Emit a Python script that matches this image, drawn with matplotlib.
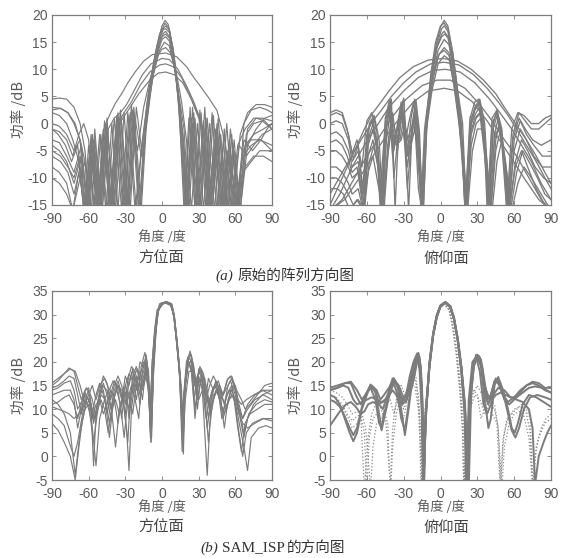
import matplotlib
matplotlib.use("Agg")
import matplotlib.pyplot as plt

# angle (deg) / power (dB) key points
# (a) original pattern, azimuth plane
az_orig = [
    [(-90,-3),(-84,-3.5),(-78,-6),(-72,-9),(-66,-4),(-61,-16),(-56,-3),(-51,-16),(-46,-1),(-41,-16),(-35,1),(-29,-16),(-24,2.5),(-18,-16),(-14,-2),(-9,8),(-4,14.5),(0,18),(2.5,19),(5,18.3),(9,14),(13,6),(17,-3),(20,-16),(24,1),(29,-16),(34,0.5),(39,-16),(44,-1),(50,-16),(55,-3),(61,-16),(67,-3),(74,-5),(81,-3),(86,-1),(90,0)],
    [(-90,-5),(-83,-6),(-77,-8),(-72,-10),(-67,-6),(-63,-16),(-58,-4),(-53,-16),(-48,-1.5),(-43,-16),(-37,0),(-32,-16),(-27,1.5),(-21,-16),(-16,-3),(-11,6),(-5,13.5),(0,17.2),(3,18),(6,17.2),(10,12.5),(14,4),(18,-4),(21,-16),(26,2),(31,-16),(36,1),(41,-16),(47,-1.5),(53,-16),(58,-4),(63,-16),(69,-2),(75,0),(82,0.5),(90,-1)],
    [(-90,4.5),(-84,4.7),(-78,4.5),(-72,3),(-67,0),(-63,-5),(-59,-16),(-55,-1),(-50,-16),(-45,1),(-40,-16),(-34,2.5),(-28,-16),(-23,3),(-17,-16),(-13,-1),(-8,8),(-3,14),(1,16.6),(3,17),(6,16),(10,11),(14,3),(18,-16),(22,1),(27,-16),(32,2),(37,-16),(42,1.5),(48,-16),(53,0),(58,-16),(64,-2),(70,2),(77,3.5),(84,3.5),(90,3)],
    [(-90,3),(-83,2.8),(-77,2),(-71,0),(-66,-4),(-61,-16),(-57,-2),(-52,-16),(-47,0.5),(-42,-16),(-36,2),(-30,-16),(-25,3.5),(-19,-16),(-15,-4),(-10,5),(-5,12),(0,15.5),(3,16),(6,15.2),(10,11),(14,4),(17,-2),(21,-16),(25,3),(30,-16),(35,3),(40,-16),(45,0),(51,-16),(56,-1),(62,-16),(67,0),(73,2.5),(80,3),(86,2.5),(90,2)],
    [(-90,2),(-84,1.5),(-78,0),(-73,-3),(-68,-7),(-64,-16),(-60,-4),(-55,-16),(-50,-2),(-45,-16),(-39,1),(-33,-16),(-28,2),(-22,-16),(-17,-5),(-12,3),(-7,9),(-2,13.5),(2,15),(6,14.3),(10,10.5),(14,5),(18,-1),(22,-16),(27,1),(32,-16),(37,1),(43,-16),(48,-2),(54,-16),(59,-5),(64,-16),(70,-4),(77,-1),(84,1),(90,1.5)],
    [(-90,0),(-84,-0.5),(-78,-2),(-72,-5),(-67,-3),(-63,-16),(-58,-2),(-53,-16),(-48,-1),(-43,-16),(-37,1.5),(-31,-16),(-26,2),(-20,-5),(-15,3),(-10,8),(-5,12),(0,13.7),(3,14),(7,13),(12,9),(16,4),(20,-3),(24,-16),(29,0),(34,-16),(39,0),(45,-16),(51,-2),(57,-16),(63,-4),(69,-6),(75,-4),(82,-2),(90,-1)],
    [(-90,-1),(-85,-2),(-79,-4),(-74,-7),(-69,-4),(-64,-16),(-58,-3),(-52,-16),(-46,0),(-42,2),(-38,3.8),(-33,5.5),(-28,7.5),(-22,9.5),(-15,11.5),(-8,12.7),(3,13),(12,12.3),(20,10.5),(26,8.5),(31,7),(38,4.8),(45,2.4),(50,-2),(54,-16),(59,-3),(64,-16),(70,-1),(77,1),(84,0.5),(90,-1)],
    [(-90,-4),(-84,-5),(-78,-7),(-72,-11),(-66,-6),(-61,-16),(-55,-3),(-49,-16),(-44,-1),(-39,1),(-34,2),(-29,3.5),(-23,6),(-16,9),(-9,11),(0,12),(6,11.8),(13,10),(20,7),(26,4),(31,1),(36,-4),(40,-16),(45,-2),(50,-16),(55,-4),(61,-16),(66,-6),(73,-4),(80,-3),(90,-4)],
    [(-90,-6),(-83,-7),(-77,-9),(-72,-13),(-67,-8),(-62,-16),(-57,-5),(-51,-16),(-46,-3),(-41,-16),(-36,0),(-31,2),(-25,4),(-18,7),(-10,9.5),(-2,10.8),(3,11),(9,10.5),(16,8.5),(23,5),(29,2),(34,-1),(38,-16),(43,-3),(48,-16),(53,-5),(60,-16),(66,-5),(73,-3),(81,-3),(90,-5)],
    [(-90,-8),(-84,-9),(-78,-11),(-73,-16),(-68,-9),(-63,-16),(-58,-6),(-53,-16),(-47,-3),(-42,-16),(-37,-1),(-32,1),(-26,3),(-19,5.5),(-10,8),(-3,9.3),(3,9.5),(10,9),(17,7.5),(24,4.5),(30,1),(35,-3),(39,-16),(44,-4),(49,-16),(55,-6),(62,-16),(68,-8),(75,-6),(83,-6),(90,-7)],
    [(-90,-1),(-84,-1.5),(-78,-3),(-73,-6),(-68,-2),(-64,0),(-60,-3),(-56,-16),(-51,-2),(-46,-16),(-41,0),(-36,-16),(-31,2),(-26,-16),(-21,3),(-16,-6),(-12,2),(-7,11),(-2,16.5),(2.5,18.5),(6,17.5),(10,12),(13,5),(16,-5),(19,-16),(23,3),(27,-16),(31,2.5),(36,-16),(41,2),(46,-16),(51,-1),(56,-16),(62,-4),(68,-1),(75,1),(82,1),(90,0.5)],
    [(-90,-10),(-84,-11),(-78,-13),(-73,-16),(-68,-11),(-63,-7),(-58,-16),(-54,-5),(-49,-16),(-44,-3),(-38,-16),(-33,0),(-27,-16),(-22,1),(-17,-6),(-12,4),(-6,12),(-1,15.8),(3,16.5),(7,15.5),(11,10),(15,2),(19,-16),(24,-1),(28,-16),(33,-2),(38,-16),(43,-3),(49,-16),(54,-5),(60,-16),(66,-9),(73,-7),(80,-5),(90,-5)],
    [(-90,2.5),(-83,2.8),(-77,2),(-72,0),(-67,-3),(-63,-7),(-60,-16),(-56,-4),(-50,-16),(-45,-0.5),(-39,-16),(-34,1.5),(-28,-16),(-23,1),(-18,-16),(-13,0),(-8,9),(-3,15),(1,17.3),(3,17.5),(6,16.8),(10,12),(13,5),(17,-5),(20,-16),(25,0),(31,-16),(36,0),(41,-16),(46,1),(52,-16),(57,-2),(62,-16),(68,-4),(75,-2),(83,-1),(90,0)],
]

# (a) original pattern, elevation plane
el_orig = [
    [(-90,1.5),(-85,2),(-80,1.5),(-75,-2),(-71,-6.5),(-67,-4),(-62,-16),(-58,0),(-54,1.5),(-50,-3),(-47,-16),(-44,0),(-40,4.5),(-37,-16),(-34,0),(-30,4.7),(-26,-16),(-23,0),(-20,4.4),(-17,-2),(-15,-16),(-12,-2),(-8,8),(-4,14),(0,17.8),(3,19),(6,18),(10,13),(14,6),(18,0),(21,-16),(24,0),(28,3),(32,4.5),(36,0),(40,-16),(43,0),(46,2.5),(50,-2),(55,-16),(59,-2),(64,2),(69,0.5),(74,-1),(80,-1),(85,0),(90,1)],
    [(-90,0),(-85,0.5),(-80,0),(-75,-3),(-72,-7),(-67,-5),(-63,-12),(-59,-1),(-55,1),(-51,-5),(-48,-14),(-44,-1),(-41,3.5),(-38,-10),(-34,-1),(-31,3.5),(-27,-12),(-23,-1),(-20,3),(-17,-5),(-14,-16),(-11,0),(-7,9),(-3,14.5),(1,17.5),(3,18),(6,17),(10,12),(14,5),(17,-2),(20,-16),(24,-1),(28,2.5),(31,3.5),(35,-1),(39,-16),(43,-1),(46,1.5),(50,-4),(54,-16),(59,-3),(64,1),(69,-1),(75,-3),(82,-4),(90,-3)],
    [(-90,-2),(-85,-1.5),(-80,-2.5),(-75,-5),(-72,-8),(-67,-7),(-63,-16),(-59,-3),(-55,0),(-52,-4),(-49,-16),(-45,-2),(-42,3),(-38,-4),(-35,-1),(-32,3),(-28,-6),(-24,-2),(-21,2),(-18,-8),(-15,-16),(-12,0),(-7,9),(-3,14),(1,16.5),(3,17),(6,16),(10,11),(14,4),(17,-3),(20,-16),(25,0),(29,2),(32,3),(36,-3),(40,-16),(44,-2),(47,1),(51,-5),(55,-16),(60,-5),(65,-1),(70,-3),(76,-6),(83,-8),(90,-8)],
    [(-90,-5),(-85,-5),(-80,-6),(-75,-8),(-72,-10),(-67,-9),(-63,-13),(-59,-4),(-55,-1),(-51,-6),(-48,-16),(-44,-3),(-41,2),(-37,-3),(-34,-2),(-31,2),(-27,-8),(-24,-3),(-21,1),(-18,-12),(-15,-16),(-12,0),(-7,8),(-2,13.5),(3,15.5),(7,14.5),(11,9),(15,2),(18,-5),(21,-16),(25,-2),(29,1),(33,2),(37,-5),(41,-16),(45,-3),(48,0),(52,-6),(56,-16),(61,-7),(66,-3),(71,-5),(77,-8),(84,-10),(90,-11)],
    [(-90,-8),(-85,-8),(-80,-9),(-75,-11),(-72,-13),(-67,-12),(-63,-16),(-59,-6),(-55,-3),(-51,-8),(-47,-16),(-43,-4),(-40,1),(-36,-2),(-33,-3),(-30,1),(-26,-6),(-22,0),(-18,-4),(-15,-16),(-12,-1),(-7,7),(-2,12.5),(3,14),(7,13),(11,8),(15,1),(18,-6),(21,-16),(25,-4),(29,0),(33,1),(37,-6),(41,-16),(45,-5),(49,-1),(53,-7),(57,-16),(62,-9),(67,-5),(72,-7),(79,-10),(85,-13),(90,-14)],
    [(-90,-12),(-84,-12),(-79,-13),(-74,-16),(-68,-14),(-63,-16),(-59,-9),(-55,-6),(-51,-11),(-47,-16),(-43,-6),(-40,-1),(-36,-4),(-32,-3),(-29,0),(-25,-5),(-21,-1),(-18,-6),(-15,-16),(-12,-2),(-7,6),(-2,11),(3,12.5),(7,11.8),(11,7),(15,0),(19,-8),(22,-16),(26,-5),(30,-1),(34,-1),(38,-8),(42,-16),(46,-7),(50,-3),(54,-9),(58,-16),(63,-11),(68,-8),(74,-10),(82,-13),(90,-16)],
    [(-90,-3.5),(-85,-3),(-80,-4),(-76,-6),(-72,-9),(-68,-8),(-64,-14),(-60,-2),(-56,0.5),(-52,-3),(-49,-12),(-45,0),(-42,4),(-39,-6),(-35,0),(-32,4),(-29,-4),(-26,0),(-22,4),(-18,-3),(-16,-16),(-13,-1),(-8,8),(-3,14),(1,16),(3.5,16.5),(7,15.5),(11,10),(15,3),(18,-4),(22,-16),(25,1),(29,3),(32,4),(36,-2),(39,-16),(42,0),(46,2),(50,-3),(56,-16),(60,-3),(65,0.5),(70,-2),(76,-4),(83,-6),(90,-6)],
    [(-90,-10),(-85,-10),(-80,-11),(-75,-13),(-71,-15),(-67,-14),(-62,-16),(-58,-7),(-54,-4),(-50,-9),(-46,-16),(-42,-3),(-39,2),(-35,-5),(-31,2.5),(-27,-3),(-24,-1),(-20,2),(-17,-8),(-14,-16),(-11,1),(-6,9),(-1,12.8),(3,13.5),(7,12.5),(11,7),(15,1),(18,-8),(21,-16),(24,-2),(28,1),(32,2),(36,-6),(40,-16),(44,-3),(48,0),(52,-7),(56,-16),(61,-8),(66,-5),(71,-8),(78,-12),(85,-15),(90,-16)],
    [(-90,2),(-85,2.5),(-80,2),(-76,-1),(-72,-5.5),(-68,-3),(-64,-8),(-60,0.5),(-56,2),(-52,-1),(-48,-16),(-45,1),(-41,4.5),(-38,-5),(-34,1),(-30,4.5),(-27,-6),(-24,1),(-21,4.5),(-18,0),(-15,-16),(-12,-1),(-8,9),(-4,15),(0,18),(3,18.5),(6,17.5),(10,13),(14,6),(17,0),(20,-16),(24,1),(28,4),(31,4.5),(35,1),(38,-16),(42,1),(46,2.5),(50,-1),(54,-16),(58,-1),(63,2),(68,1.5),(74,0),(80,0),(85,1),(90,1.5)],
    [(-90,-15),(-80,-10),(-70,-5),(-62,-1),(-55,2),(-50,3.5),(-42,6),(-33,8.5),(-22,10.5),(-10,11.7),(2,12),(14,11.5),(25,10),(35,8),(45,5.5),(52,3),(58,1),(64,-1),(70,-3),(78,-6),(85,-9),(90,-11)],
    [(-90,-13),(-80,-9),(-70,-5),(-62,-2),(-55,0.5),(-48,2.5),(-40,5),(-30,7.5),(-20,9.5),(-8,11),(3,11.3),(15,10.8),(27,9),(38,6.5),(47,4),(55,1.5),(62,-1),(70,-4),(78,-7),(85,-10),(90,-12)],
    [(-90,-16),(-82,-13),(-72,-8),(-62,-4),(-52,-0.5),(-42,3),(-30,6),(-18,8.5),(-6,9.8),(4,10),(16,9.5),(28,7.5),(40,4.5),(50,1.5),(58,-1),(66,-4),(74,-7),(82,-11),(90,-14)],
    [(-90,-16),(-80,-14),(-70,-10),(-60,-6),(-50,-2.5),(-40,1),(-28,4.5),(-15,7),(-3,8),(8,8),(20,6.5),(32,3.5),(42,0.5),(52,-3),(62,-6),(72,-10),(82,-14),(90,-16)],
    [(-90,-16),(-78,-14),(-66,-10),(-55,-6),(-45,-2.5),(-35,0.5),(-22,4),(-10,6),(3,6.5),(14,6),(26,4),(38,0.5),(48,-3),(58,-6.5),(68,-10),(80,-14),(90,-16)],
]

# (b) SAM_ISP pattern, azimuth plane
az_isp = [
    [(-90,15.5),(-85,16.5),(-80,17.5),(-75,18.5),(-71,18),(-67,15),(-63,11),(-60,13),(-57,15),(-54,12),(-51,15),(-47,16.5),(-43,14),(-40,16),(-36,15),(-33,12),(-30,17),(-27,15),(-24,18.5),(-21,14),(-18,20),(-15,19),(-13,21.5),(-11,15),(-9.5,5),(-8,20),(-6,26),(-4,30),(-2,32.3),(3,32.7),(8,32.3),(10,30),(12,25),(14,19),(16,8),(17.5,12),(20,20),(23,22),(26,18),(28,14),(30,18.5),(33,16),(36,13),(38,16.5),(42,14),(46,16),(50,13),(54,16.5),(57,17),(61,14),(65,12),(68,10),(72,11),(78,13),(84,15),(90,15.5)],
    [(-90,12),(-85,11),(-80,9),(-75,5),(-71,-4),(-67,5),(-63,10),(-60,11),(-57,6),(-54,-2),(-51,8),(-47,12),(-44,14),(-41,9),(-38,2),(-35,10),(-32,13),(-29,6),(-27,-3),(-25,10),(-22,16),(-19,17),(-16,12),(-14,17),(-12,19),(-10,12),(-9,3),(-7,18),(-5,27),(-3,31),(0,32.2),(3,32.5),(7,32),(9.5,30),(12,24),(14.5,17),(16.5,1),(18.5,14),(21,20),(24,19),(27,8),(30,17),(33,14),(35,5),(37,-4),(39,6),(42,13),(46,14),(49,8),(52,12),(55,14),(59,12),(62,6),(65,1),(68,7),(72,9),(78,10),(84,11),(90,11)],
    [(-90,14),(-85,14.5),(-80,15.5),(-75,16),(-72,14),(-69,10),(-65,12),(-62,14.5),(-59,13),(-56,7),(-53,11),(-49,15),(-45,14),(-42,10),(-39,14),(-36,16),(-33,13),(-30,9),(-27,16),(-24,18),(-21,16),(-18,11),(-16,18),(-13,21),(-11,17),(-9.5,6),(-8,17),(-6,25),(-4,30),(-1,32),(3,32.8),(7,32.4),(10,29.5),(12,24),(14,18.5),(16,10),(17,5),(18.5,15),(21,21),(24,21.5),(27,17),(29,12),(32,17),(35,16.5),(38,11),(41,14),(44,15.5),(48,12),(52,14),(56,16),(60,13),(64,8),(67,4),(70,8),(75,11),(82,13),(90,14)],
    [(-90,9),(-85,8),(-80,6.5),(-76,3),(-72,0),(-69,3),(-65,9),(-62,12),(-59,9),(-56,3),(-53,9),(-50,13),(-46,12),(-43,7),(-40,12),(-37,14),(-34,11),(-31,4),(-28,12),(-25,15),(-22,12),(-19,8),(-17,15),(-14,18),(-11,14),(-9,3),(-7,17),(-5,26),(-3,31),(1,32.3),(4,32.5),(8,31.8),(10,29),(13,22),(15,15),(17,2),(19,15),(22,20),(25,17),(27,10),(30,16),(33,15),(36,8),(39,12),(43,15),(47,13),(50,9),(53,13),(57,15),(60,11),(63,5),(66,0),(69,5),(74,7),(82,8),(90,8)],
    [(-90,15),(-85,16),(-80,17.5),(-76,18.7),(-72,18),(-69,15),(-66,12),(-63,14),(-60,14.5),(-58,10),(-56,-2),(-54,9),(-51,14),(-48,17),(-45,15.5),(-42,12),(-39,15),(-36,17),(-33,15),(-30,11),(-28,16),(-25,19),(-22,18),(-19,14),(-17,19),(-14,22),(-11,18),(-10,8),(-8,20),(-6,27),(-4,31),(0,32.5),(4,32.7),(8,32),(10,29),(12.5,23),(15,16),(16.5,5),(18,13),(21,20),(23,22.3),(26,19),(28,15),(31,19),(34,17.5),(36,12),(39,15),(42,17),(46,15),(50,13),(53,16),(56,17),(59,15),(62,12),(65,11),(69,12),(75,13),(82,14),(90,13)],
    [(-90,10.5),(-85,10),(-80,9.5),(-76,9),(-72,8),(-68,9),(-64,11),(-61,12.5),(-58,11),(-55,8),(-52,12),(-49,14),(-46,11),(-43,4),(-40,11),(-37,15),(-34,14),(-31,10),(-28,3),(-26,12),(-23,17),(-20,18.5),(-17,14),(-15,16),(-13,20),(-11,16),(-9.5,4),(-8,19),(-6,26),(-4,30.5),(-1,32.4),(3,32.6),(7,32.2),(10,29.5),(12,24.5),(14,19),(16,12),(17.5,0.5),(19,16),(22,21),(25,19.5),(28,13),(30,16),(33,16),(36,9),(38,3),(40,10),(44,14),(48,12),(51,6),(54,12),(57,14),(60,12),(63,9),(66,7),(70,6),(76,7),(83,8),(90,7.5)],
    [(-90,7),(-85,5.5),(-80,3),(-75,0),(-71,-5),(-68,2),(-65,8),(-62,11),(-59,12),(-56,8),(-53,10),(-50,12),(-47,10),(-44,5),(-41,10),(-38,12),(-35,9),(-32,12),(-29,14),(-27,8),(-24,14),(-21,17),(-18,13),(-15,15),(-13,19),(-11,13),(-9,6),(-7,19),(-5,26.5),(-3,31),(1,32.5),(5,32.6),(8,32),(10,29),(12,24),(14.5,18),(16,14),(17.5,4),(19,12),(22,18),(25,18),(28,15),(30,12),(33,14),(36,13),(39,10),(42,12),(45,14),(48,11),(51,9),(55,12),(58,13),(61,10),(64,6),(67,2),(70,-3),(73,4),(79,6),(85,6.5),(90,6)],
    [(-90,13),(-85,13.5),(-80,14),(-75,14),(-72,12),(-69,6),(-66,10),(-63,13),(-60,12),(-57,9),(-54,13),(-51,15.5),(-48,14),(-45,9),(-42,13),(-39,16),(-36,14),(-33,8),(-30,15),(-27,17.5),(-24,16),(-21,12),(-18,17),(-15,20),(-12,18),(-10,10),(-8,18),(-6,25.5),(-4,30),(-1,32.2),(3,32.4),(7,32),(10,30),(12.5,24),(15,17),(16.5,8),(18.5,14),(21,19.5),(24,20),(26.5,15),(29,17),(32,18),(35,13),(37,6),(40,12),(43,15),(47,14),(51,11),(54,15),(57,16.5),(60,14),(63,10),(66,8),(70,10),(76,12),(83,13),(90,12)],
    [(-90,14.5),(-85,15),(-80,16),(-76,17),(-72,16.5),(-69,13),(-66,9),(-63,12),(-60,14),(-57,12),(-54,8),(-51,13),(-48,15.5),(-45,13),(-42,8),(-39,13),(-36,15),(-33,14),(-30,13),(-27,10),(-24,17),(-21,19),(-18,16),(-15,18),(-12.5,20.5),(-10.5,14),(-9,5),(-7.5,18),(-5.5,26),(-3.5,30.5),(0,32.4),(4,32.6),(8,32.1),(10,29.5),(12.5,24),(14.5,18),(16,11),(17,3),(18.5,13),(21,19),(24,20.5),(27,16),(29,10),(31,15),(34,17),(37,14),(40,9),(43,13),(47,15),(50,12),(53,10),(56,14),(60,15),(63,11),(66,8),(70,11),(76,13),(83,14),(90,14)],
    [(-90,11),(-85,11.5),(-80,12.5),(-76,13),(-72,11),(-69,8),(-66,11),(-63,13.5),(-60,12),(-57,8),(-54,11),(-51,12),(-48,9),(-45,11),(-42,14),(-39,12),(-36,7),(-33,12),(-30,15),(-27,13),(-24,9),(-21,15),(-18,18),(-15,15),(-12,18),(-10,11),(-8.5,4),(-7,19),(-5,27),(-3,31),(0,32.3),(4,32.5),(8,31.9),(10,29.5),(12,25),(14,19.5),(15.5,14),(17,6),(18.5,15),(21,20.5),(24,18),(26,12),(29,17),(32,18.5),(35,15),(38,8),(41,13),(44,16),(47,14),(50,8),(53,11),(57,13),(61,12),(64,9),(67,5),(71,9),(77,11),(84,12),(90,11.5)],
]

# (b) SAM_ISP pattern, elevation plane: solid curves
el_isp = [
    [(-90,14.5),(-84,15),(-78,15.5),(-73,15.8),(-68,14),(-64,12),(-60,13.5),(-56,15),(-52,14),(-49,12),(-46,13),(-42,14.5),(-38,16.5),(-34,14),(-31,12),(-28,13),(-25,17),(-22,20),(-19,21.8),(-17,18),(-15,8),(-14,-7),(-12,8),(-9,20),(-6,26),(-3,29.5),(0,31.7),(4,32.5),(8,31.5),(11,29),(14,25),(17,19),(20,10),(22,-7),(24,12),(27,20),(30,21.5),(33,20),(36,13),(39,11),(42,14),(45,16.5),(48,15),(52,12),(56,11),(60,12),(65,13.5),(70,15),(75,15.5),(80,15),(85,14),(90,13.5)],
    [(-90,14),(-84,14.5),(-78,15.5),(-73,15.5),(-69,13),(-65,11),(-61,13),(-57,15.2),(-53,14),(-50,11),(-47,10),(-43,13),(-39,16.5),(-35,15),(-31,11),(-28,12),(-25,16),(-21,19),(-18,21.9),(-16,19),(-14.5,10),(-13.5,-7),(-12,10),(-9,19),(-6,25.5),(-3,29.5),(0,31.8),(4,32.6),(8,31.7),(11,29),(14,24.5),(17,18),(20,8),(21.5,-7),(23,8),(26,18),(29,21.5),(32,21),(35,16),(38,12),(41,13),(44,16),(47,15.5),(51,13),(55,11.5),(60,12.5),(65,14),(70,15),(75,15.8),(80,15.5),(85,14.5),(90,14.5)],
    [(-90,13),(-86,12.5),(-82,11),(-78,8),(-74,5),(-71,3.2),(-68,5),(-64,10),(-60,13),(-57,15),(-53,13.5),(-50,9),(-48,5.5),(-46,8),(-42,12.5),(-38,16.5),(-35,15),(-32,10),(-29,4.5),(-26,10),(-23,16),(-20,20),(-18,21.5),(-16,17),(-15,10),(-14,-7),(-12,9),(-9,19.5),(-6,25.8),(-3,29.7),(0,31.8),(4,32.6),(8,31.6),(11,29),(14,25),(17,18.5),(20,10),(22.5,-7),(24,10),(27,19),(30,21),(33,19),(36,12),(39,6),(41,8),(44,15),(47,16.8),(51,14),(55,10),(58,6),(60.5,5),(63,7),(67,11),(72,13),(78,12.5),(84,11.5),(90,10.5)],
    [(-90,12),(-86,11.5),(-82,10.5),(-78,8.5),(-74,6),(-71,4.5),(-68,6),(-64,10.5),(-60,13.5),(-57,14.5),(-53,12),(-50,7),(-48,6),(-46,9),(-42,13),(-38,15.5),(-35,13),(-32,8),(-29,5.5),(-26,11),(-23,17.5),(-20,21),(-17,21),(-15,14),(-14,-7),(-12.5,7),(-9,19),(-6,25.5),(-3,29.5),(0,31.7),(4,32.5),(8,31.6),(11,29),(14,24.5),(17,18),(19.5,10),(21,-7),(23,12),(26,20),(29,21),(32,18),(35,11),(38,9),(41,11),(44,15.5),(47,16),(51,13.5),(55,9),(58,5.5),(61,4),(64,6),(68,10),(73,12.5),(79,13),(85,12.5),(90,12)],
    [(-90,6.5),(-86,8),(-82,9.5),(-77,11),(-73,11.5),(-69,10.5),(-65,9),(-62,9.5),(-59,11),(-55,11.5),(-51,11),(-47,11.5),(-43,12.5),(-39,14),(-36,13),(-33,11),(-30,12),(-27,13.5),(-24,14),(-22,16),(-19,20),(-17,20.5),(-15,13),(-14,-7),(-12,8),(-9,19.5),(-6,26),(-3,30),(0,32),(4,32.7),(8,31.8),(11,29.5),(14,25),(17,19),(20,11),(22,-7),(24,11),(27,19.5),(30,21.5),(33,20.5),(36,15),(39,12.5),(42,12),(45,13),(49,13.5),(53,13),(57,12.5),(62,12),(67,11.5),(72,10),(75,6),(77,-6),(80,0),(84,3),(87,5),(90,6.5)],
    [(-90,14),(-84,14.5),(-79,15),(-75,14.5),(-71,12),(-68,11),(-64,11.5),(-60,12),(-56,12.5),(-52,12),(-48,11.5),(-45,12),(-41,14),(-37,16),(-34,15),(-31,13),(-28,11.5),(-25,14.5),(-22,18.5),(-19,21.5),(-17,20),(-15,12),(-13.5,-7),(-12,9),(-9,19.5),(-6,25.8),(-3,29.8),(0,31.9),(4,32.6),(8,31.7),(11,29.2),(14,24.8),(17,18.5),(20,9),(23,-7),(25,14),(28,20.5),(31,21.3),(34,19),(37,14),(40,12),(43,13),(47,14.5),(52,14),(57,12.5),(62,12.5),(67,13.5),(72,14.5),(77,14.8),(83,14.5),(90,13.5)],
]

# (b) SAM_ISP pattern, elevation plane: dotted curves
el_isp_dotted = [
    [(-90,12),(-84,11.5),(-79,10),(-75,8),(-72,6),(-68,7),(-65,8.5),(-62,5),(-60,-7),(-58,4),(-55,8),(-52,9),(-49,7),(-46,9.5),(-43,7),(-41,-7),(-39,6),(-36,12),(-33,10),(-30,8),(-27,12),(-24,15),(-21,15),(-18,10),(-16,0),(-15,-7),(-13,5),(-10,15),(-7,23),(-4,29),(-1,31.5),(3,32.3),(7,31),(10,27),(13,21),(16,13),(18,5),(19,-7),(21,5),(24,12),(27,14),(30,13),(33,8),(36,10),(40,12),(44,11),(47,6),(49,-7),(51,3),(54,8),(58,9),(62,10),(66,11),(70,9),(73,5),(75,-7),(77,0),(80,4),(85,7),(90,8)],
    [(-90,13),(-85,12.5),(-80,11),(-76,9),(-72,7.5),(-68,8.5),(-64,9),(-61,6),(-59,0),(-57,-7),(-55,2),(-52,7),(-49,8),(-46,9),(-44,6),(-42,-2),(-40.5,-7),(-39,2),(-36,9),(-33,12),(-30,10),(-27,13),(-24,16),(-21,16.5),(-18,13),(-16,5),(-15,-7),(-14,2),(-11,13),(-8,21),(-5,27.5),(-2,31),(3,32.2),(7,31),(10,27.5),(13,22),(16,14),(18,6),(19,-7),(21,3),(24,10),(28,13),(32,12),(36,9),(40,11),(44,10),(47,6),(50,-7),(52,2),(56,7),(60,9),(64,9.5),(68,8.5),(72,4),(74,-3),(76,-7)],
    [(-90,14),(-85,13.5),(-80,12.5),(-76,11),(-72,9),(-68,9.5),(-65,9),(-62,-7),(-59,4),(-56,9),(-53,11),(-50,11),(-47,9),(-44,11),(-41,12),(-38,9),(-35,12),(-32,15),(-29,13),(-26,15),(-23,18),(-20,17),(-17,8),(-16,-7),(-14,6),(-11,14),(-8,22),(-5,28),(-2,31),(3,32.3),(7,31.2),(10,28),(13,23),(16,16),(18.5,8),(20,-7),(22,6),(26,13),(30,15),(34,13),(38,10),(42,9),(46,7),(48.5,-7),(51,4),(55,8),(60,10),(65,10.5),(70,10),(73,8),(75.5,-7),(78,2),(82,6),(86,8),(90,9)],
]

x_ticks = [-90, -60, -30, 0, 30, 60, 90]
y_ticks_a = [-15, -10, -5, 0, 5, 10, 15, 20]
y_ticks_b = [-5, 0, 5, 10, 15, 20, 25, 30, 35]

LINE = "#7c7c7c"
TEXT = "#5a5a5a"
CJK = ["Noto Sans CJK SC", "DejaVu Sans"]

plt.rcParams["font.family"] = ["Liberation Sans", "DejaVu Sans"]
plt.rcParams["axes.unicode_minus"] = False

fig = plt.figure(figsize=(5.61, 5.58), dpi=100)
W, H = 561.0, 558.0


def add_axes(x0, y0, x1, y1):
    return fig.add_axes([x0 / W, 1 - y1 / H, (x1 - x0) / W, (y1 - y0) / H])


def style(ax, yticks):
    ax.set_xlim(-90, 90)
    ax.set_ylim(yticks[0], yticks[-1])
    ax.set_xticks(x_ticks)
    ax.set_yticks(yticks)
    ax.tick_params(direction="in", length=3, width=0.6, top=True, right=True,
                   colors=LINE, labelcolor=TEXT, labelsize=10)
    ax.tick_params(axis="x", pad=5)
    ax.tick_params(axis="y", pad=3)
    for s in ax.spines.values():
        s.set_color(LINE)
        s.set_linewidth(0.9)


def draw(ax, curves, lw=0.7, ls="-", color=LINE):
    for c in curves:
        xs = [p[0] for p in c]
        ys = [p[1] for p in c]
        ax.plot(xs, ys, color=color, lw=lw, ls=ls)


ax1 = add_axes(52, 15, 272, 205)
draw(ax1, az_orig, lw=0.85)
style(ax1, y_ticks_a)

ax2 = add_axes(330, 15, 551, 205)
draw(ax2, el_orig, lw=0.95)
style(ax2, y_ticks_a)

ax3 = add_axes(52, 291, 272, 480)
draw(ax3, az_isp, lw=0.85)
style(ax3, y_ticks_b)

ax4 = add_axes(330, 291, 551, 480)
draw(ax4, el_isp_dotted, lw=0.9, ls=":", color="#8a8a8a")
draw(ax4, el_isp, lw=1.4)
style(ax4, y_ticks_b)

# axis labels and captions
for lx in [18, 295]:
    for ly in [110, 386]:
        fig.text(lx / W, 1 - ly / H, "功率 /dB", rotation=90, ha="center", va="center",
                 family=CJK, fontsize=10.5, color=TEXT)

for cx in [162, 441]:
    fig.text(cx / W, 1 - 237 / H, "角度 /度", ha="center", va="center",
             family=CJK, fontsize=9.5, color=TEXT)
    fig.text(cx / W, 1 - 507 / H, "角度 /度", ha="center", va="center",
             family=CJK, fontsize=9.5, color=TEXT)

for cx, name in [(161, "方位面"), (446, "俯仰面")]:
    for cy in [258, 527]:
        fig.text(cx / W, 1 - cy / H, name, ha="center", va="center", family=CJK,
                 fontsize=11, color="#444444")

fig.text(233 / W, 1 - 276 / H, "(a)", ha="right", va="center", family="Liberation Serif",
         style="italic", fontsize=11, color="#333333")
fig.text(237 / W, 1 - 276 / H, "原始的阵列方向图", ha="left", va="center", family=CJK,
         fontsize=10.5, color="#333333")
fig.text(218 / W, 1 - 548 / H, "(b)", ha="right", va="center", family="Liberation Serif",
         style="italic", fontsize=11, color="#333333")
fig.text(222 / W, 1 - 548 / H, "SAM_ISP", ha="left", va="center", family="Liberation Serif",
         fontsize=11, color="#333333")
fig.text(287 / W, 1 - 548 / H, "的方向图", ha="left", va="center", family=CJK,
         fontsize=10.5, color="#333333")

fig.savefig("out.png", dpi=100)
